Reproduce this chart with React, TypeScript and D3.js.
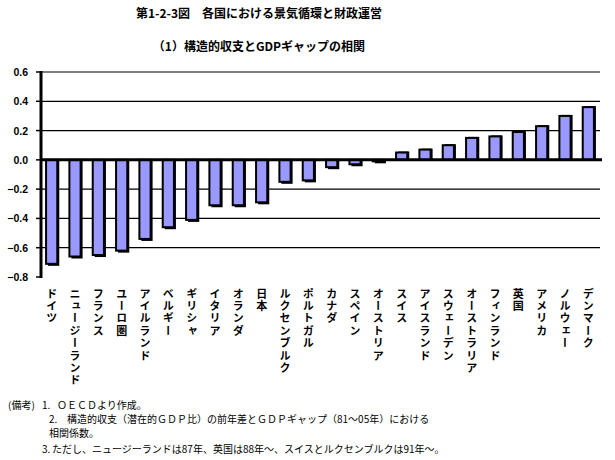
import React, { useEffect, useRef } from "react";
import * as d3 from "d3";

const countries = [
  "ドイツ", "ニュージーランド", "フランス", "ユーロ圏", "アイルランド", "ベルギー",
  "ギリシャ", "イタリア", "オランダ", "日本", "ルクセンブルク", "ポルトガル",
  "カナダ", "スペイン", "オーストリア", "スイス", "アイスランド", "スウェーデン",
  "オーストラリア", "フィンランド", "英国", "アメリカ", "ノルウェー", "デンマーク",
];

const correlation = [
  -0.71, -0.66, -0.65, -0.62, -0.54, -0.46,
  -0.41, -0.31, -0.31, -0.29, -0.15, -0.14,
  -0.05, -0.03, -0.01, 0.05, 0.07, 0.10,
  0.15, 0.16, 0.19, 0.23, 0.30, 0.36,
];

const yTicks = [0.6, 0.4, 0.2, 0.0, -0.2, -0.4, -0.6, -0.8];

const titleMain = "第1-2-3図\u3000各国における景気循環と財政運営";
const titleSub = "（1）構造的収支とGDPギャップの相関";

const notes = [
  { label: "(備考)", num: "1.", text: "ＯＥＣＤより作成。" },
  { label: "", num: "2.", text: "構造的収支（潜在的ＧＤＰ比）の前年差とＧＤＰギャップ（81～05年）における" },
  { label: "", num: "", text: "相関係数。" },
  { label: "", num: "3.", text: "ただし、ニュージーランドは87年、英国は88年～、スイスとルクセンブルクは91年～。" },
];

const W = 615;
const H = 460;
const JP = "'Noto Sans CJK JP', 'Noto Sans', sans-serif";
const LATIN = "'Liberation Sans', Arial, sans-serif";

const App: React.FC = () => {
  const svgRef = useRef<SVGSVGElement>(null);

  useEffect(() => {
    if (!svgRef.current) return;
    const svg = d3.select(svgRef.current);
    svg.selectAll("*").remove();

    const left = 40;
    const right = 600;

    const x = d3.scaleBand().domain(countries).range([left, right]).paddingInner(0.52).paddingOuter(0.26);
    const y = d3.scaleLinear().domain([-0.8, 0.6]).range([277, 72]);

    // Titles
    svg.append("text")
      .attr("x", 259).attr("y", 18)
      .attr("text-anchor", "middle")
      .style("font-family", JP).style("font-size", "12px").style("font-weight", "bold")
      .text(titleMain);

    svg.append("text")
      .attr("x", 259).attr("y", 51)
      .attr("text-anchor", "middle")
      .style("font-family", JP).style("font-size", "12px").style("font-weight", "bold")
      .text(titleSub);

    // Gridlines (none at the bottom tick)
    svg.append("g")
      .selectAll("line")
      .data(yTicks.filter((t) => t !== 0 && t !== -0.8))
      .join("line")
      .attr("x1", left).attr("x2", right)
      .attr("y1", (d) => y(d)).attr("y2", (d) => y(d))
      .attr("stroke", "#000").attr("stroke-width", 1.2);

    // Bars with a drop shadow
    const bars = svg.append("g");
    const data = countries.map((c, i) => ({ c, v: correlation[i] }));
    const bw = x.bandwidth();

    bars.selectAll(".shadow")
      .data(data)
      .join("rect")
      .attr("class", "shadow")
      .attr("x", (d) => (x(d.c) || 0) + 2)
      .attr("y", (d) => (d.v >= 0 ? y(d.v) - 1 : y(0)))
      .attr("width", bw)
      .attr("height", (d) => Math.abs(y(d.v) - y(0)) + 2)
      .attr("fill", "#000");

    bars.selectAll(".bar")
      .data(data)
      .join("rect")
      .attr("class", "bar")
      .attr("x", (d) => x(d.c) || 0)
      .attr("y", (d) => Math.min(y(d.v), y(0)))
      .attr("width", bw)
      .attr("height", (d) => Math.abs(y(d.v) - y(0)))
      .attr("fill", "#9999ff")
      .attr("stroke", "#000")
      .attr("stroke-width", 2);

    // Zero line and y axis
    svg.append("line")
      .attr("x1", left).attr("x2", right + 2)
      .attr("y1", y(0)).attr("y2", y(0))
      .attr("stroke", "#000").attr("stroke-width", 3);

    svg.append("line")
      .attr("x1", left + 1).attr("x2", left + 1)
      .attr("y1", y(0.6) - 1).attr("y2", y(-0.8) + 1)
      .attr("stroke", "#000").attr("stroke-width", 3);

    const ticks = svg.append("g");
    ticks.selectAll("line")
      .data(yTicks)
      .join("line")
      .attr("x1", left - 4).attr("x2", left + 1)
      .attr("y1", (d) => y(d)).attr("y2", (d) => y(d))
      .attr("stroke", "#000").attr("stroke-width", 1.5);

    ticks.selectAll("text")
      .data(yTicks)
      .join("text")
      .attr("x", 28)
      .attr("y", (d) => y(d) + 4)
      .attr("text-anchor", "end")
      .style("font-family", LATIN).style("font-size", "10.5px").style("font-weight", "bold")
      .text((d) => d3.format(".1f")(d));

    // Country names, written vertically
    svg.append("g")
      .selectAll("text")
      .data(countries)
      .join("text")
      .attr("x", (d) => (x(d) || 0) + bw / 2)
      .attr("y", 288)
      .attr("writing-mode", "vertical-rl")
      .style("font-family", JP).style("font-size", "11px").style("font-weight", "bold")
      .style("letter-spacing", "1.4px")
      .text((d) => d);

    // Footnotes
    const noteY = [409, 423, 437, 453];
    const noteG = svg.append("g")
      .style("font-family", JP).style("font-size", "10px");
    notes.forEach((n, i) => {
      if (n.label) noteG.append("text").attr("x", 8).attr("y", noteY[i]).text(n.label);
      if (n.num) {
        const nx = i === 1 ? 49 : 42;
        noteG.append("text").attr("x", nx).attr("y", noteY[i]).text(n.num);
      }
      const tx = i === 0 ? 57 : i === 1 ? 67 : i === 2 ? 49 : 52;
      noteG.append("text").attr("x", tx).attr("y", noteY[i]).text(n.text);
    });
  }, []);

  return (
    <svg
      ref={svgRef}
      width={W}
      height={H}
      style={{ position: "absolute", left: 0, top: 0, background: "#fff" }}
    />
  );
};

export default App;
